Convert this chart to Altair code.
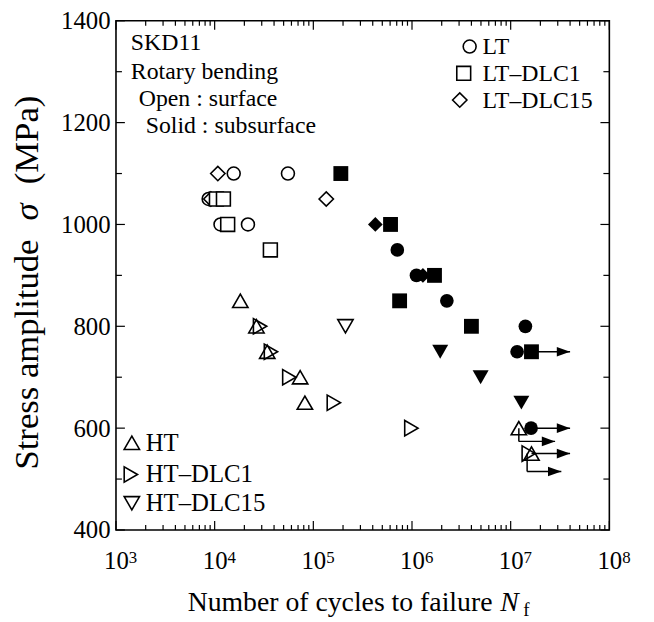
import altair as alt
import pandas as pd

# ---------------- data ----------------
lt_open_N = [1.56e4, 5.53e4, 8.69e3, 1.146e4, 2.175e4]
lt_open_S = [1100, 1100, 1050, 1000, 1000]
lt_solid_N = [7.10e5, 1.11e6, 2.255e6, 1.41e7, 1.162e7, 1.61e7]
lt_solid_S = [950, 900, 850, 800, 750, 600]

lt1_open_N = [1.042e4, 1.227e4, 1.355e4, 3.67e4]
lt1_open_S = [1050, 1050, 1000, 950]
lt1_solid_N = [1.90e5, 6.06e5, 1.69e6, 7.49e5, 4.00e6, 1.625e7]
lt1_solid_S = [1100, 1000, 900, 850, 800, 750]

lt15_open_N = [1.077e4, 9.15e3, 1.352e5]
lt15_open_S = [1100, 1050, 1050]
lt15_solid_N = [4.25e5, 1.29e6]
lt15_solid_S = [1000, 900]

ht_open_N = [1.82e4, 2.65e4, 3.41e4, 7.35e4, 8.21e4, 1.21e7, 1.625e7]
ht_open_S = [850, 800, 750, 700, 650, 600, 550]

ht1_open_N = [2.885e4, 3.72e4, 5.71e4, 1.614e5, 9.85e5, 1.525e7]
ht1_open_S = [800, 750, 700, 650, 600, 550]

ht15_open_N = [2.116e5]
ht15_open_S = [800]
ht15_solid_N = [1.931e6, 4.96e6, 1.283e7]
ht15_solid_S = [750, 700, 650]

# run-out arrows: straight (start N, tip N, stress)
run_start_N = [1.625e7, 1.61e7, 1.625e7]
run_tip_N = [4.0e7, 4.0e7, 4.0e7]
run_S = [750, 600, 550]
# run-out arrows with elbow (N, start stress, drop stress, tip N)
elb_N = [1.21e7, 1.468e7]
elb_S0 = [600, 550]
elb_S1 = [574, 515]
elb_tip_N = [2.82e7, 3.26e7]

x_major = [1e3, 1e4, 1e5, 1e6, 1e7, 1e8]
x_exp = ["3", "4", "5", "6", "7", "8"]
x_minor = [k * 10 ** e for e in range(3, 8) for k in range(2, 10)]
y_major = [400, 600, 800, 1000, 1200, 1400]
y_minor = [500, 700, 900, 1100, 1300]

notes = ["SKD11", "Rotary bending", "Open : surface", "Solid : subsurface"]
legend_top = ["LT", "LT\u2013DLC1", "LT\u2013DLC15"]
legend_bot = ["HT", "HT\u2013DLC1", "HT\u2013DLC15"]

# ---------------- layout ----------------
W, H = 498, 514
FONT = "Liberation Serif"
SW = 1.6


def df(n, s):
    return pd.DataFrame({"N": n, "S": s})


xs = alt.Scale(type="log", domain=[1e3, 1e8], nice=False)
ys = alt.Scale(domain=[400, 1400], nice=False, zero=False)
X = alt.X("N:Q", scale=xs,
          axis=alt.Axis(values=x_major, labelExpr="'10'", title=None,
                        labelFont=FONT, labelColor="black",
                        labelFontSize=25, labelPadding=19, labelFlush=False,
                        labelOverlap=False, labelBound=False,
                        grid=False, ticks=False, domain=False))
Y = alt.Y("S:Q", scale=ys,
          axis=alt.Axis(values=y_major, title=None, labelFontSize=25,
                        labelFont=FONT, labelColor="black", format="d",
                        labelPadding=6, grid=False, ticks=False, domain=False))


def open_pts(n, s, shape, size):
    return alt.Chart(df(n, s)).mark_point(
        shape=shape, filled=False, color="black", strokeWidth=SW,
        size=size, opacity=1).encode(x=X, y=Y)


def white_pts(n, s, shape, size):
    return alt.Chart(df(n, s)).mark_point(
        shape=shape, filled=True, fill="white", stroke="black",
        strokeWidth=SW, size=size, opacity=1).encode(x=X, y=Y)


def solid_pts(n, s, shape, size):
    return alt.Chart(df(n, s)).mark_point(
        shape=shape, filled=True, color="black", size=size,
        opacity=1).encode(x=X, y=Y)


layers = []


# tick marks (inside, mirrored)
def xticks(vals, length):
    d = pd.DataFrame({"N": vals})
    b = alt.Chart(d).mark_rule(color="black", strokeWidth=1.2).encode(
        x=X, y=alt.value(H), y2=alt.value(H - length))
    t = alt.Chart(d).mark_rule(color="black", strokeWidth=1.2).encode(
        x=X, y=alt.value(0), y2=alt.value(length))
    return [b, t]


def yticks(vals, length):
    d = pd.DataFrame({"S": vals})
    l = alt.Chart(d).mark_rule(color="black", strokeWidth=1.2).encode(
        y=Y, x=alt.value(0), x2=alt.value(length))
    r = alt.Chart(d).mark_rule(color="black", strokeWidth=1.2).encode(
        y=Y, x=alt.value(W), x2=alt.value(W - length))
    return [l, r]


layers += xticks(x_major, 9) + xticks(x_minor, 5)
layers += yticks(y_major, 9) + yticks(y_minor, 6)

# run-out arrows
seg_h = pd.DataFrame({"N": run_start_N + elb_N, "N2": run_tip_N + elb_tip_N,
                      "S": run_S + elb_S1})
seg_v = pd.DataFrame({"N": elb_N, "S": elb_S0, "S2": elb_S1})
layers.append(alt.Chart(seg_h).mark_rule(color="black", strokeWidth=1.5).encode(
    x=X, x2="N2:Q", y=Y))
layers.append(alt.Chart(seg_v).mark_rule(color="black", strokeWidth=1.5).encode(
    x=X, y=Y, y2="S2:Q"))
heads = df(run_tip_N + elb_tip_N, run_S + elb_S1)
layers.append(alt.Chart(heads).mark_point(
    shape="M0,0 L-2,-0.72 L-2,0.72 Z", filled=True, color="black",
    size=180, opacity=1).encode(x=X, y=Y))

# data symbols
layers.append(open_pts(lt_open_N, lt_open_S, "circle", 170))
layers.append(open_pts(lt15_open_N, lt15_open_S, "diamond", 210))
layers.append(white_pts(lt1_open_N, lt1_open_S, "square", 196))
layers.append(open_pts(ht_open_N, ht_open_S, "triangle-up", 240))
layers.append(open_pts(ht1_open_N, ht1_open_S, "triangle-right", 240))
layers.append(open_pts(ht15_open_N, ht15_open_S, "triangle-down", 240))
layers.append(solid_pts(lt_solid_N, lt_solid_S, "circle", 190))
layers.append(solid_pts(lt15_solid_N, lt15_solid_S, "diamond", 220))
layers.append(solid_pts(lt1_solid_N, lt1_solid_S, "square", 225))
layers.append(solid_pts(ht15_solid_N, ht15_solid_S, "triangle-down", 260))

# superscripts of x tick labels
sup = pd.DataFrame({"N": x_major, "t": x_exp})
layers.append(alt.Chart(sup).mark_text(
    font=FONT, fontSize=17, align="left", baseline="alphabetic", dx=13,
    color="black").encode(x=X, y=alt.value(H + 33), text="t:N"))

# annotation text
note_x = [15, 15, 23, 30]
note_y = [30, 59, 86, 113]
for t, xx, yy in zip(notes, note_x, note_y):
    layers.append(alt.Chart(pd.DataFrame({"t": [t]})).mark_text(
        font=FONT, fontSize=24, align="left", baseline="alphabetic",
        color="black").encode(x=alt.value(xx), y=alt.value(yy), text="t:N"))

# legend (top right)
lt_sym_x = [357, 351, 347]
lt_sym_y = [26, 53, 80]
lt_shapes = ["circle", "square", "diamond"]
lt_sizes = [170, 196, 210]
for t, sx, sy, sh, sz in zip(legend_top, lt_sym_x, lt_sym_y, lt_shapes, lt_sizes):
    d = pd.DataFrame({"t": [t]})
    layers.append(alt.Chart(d).mark_point(
        shape=sh, filled=False, color="black", strokeWidth=SW, size=sz,
        opacity=1).encode(x=alt.value(sx), y=alt.value(sy)))
    layers.append(alt.Chart(d).mark_text(
        font=FONT, fontSize=24, align="left", baseline="alphabetic",
        color="black").encode(x=alt.value(370), y=alt.value(sy + 8), text="t:N"))

# legend (bottom left)
ht_sym_x = [16, 15, 16]
ht_sym_y = [426, 458, 487]
ht_shapes = ["triangle-up", "triangle-right", "triangle-down"]
for t, sx, sy, sh in zip(legend_bot, ht_sym_x, ht_sym_y, ht_shapes):
    d = pd.DataFrame({"t": [t]})
    layers.append(alt.Chart(d).mark_point(
        shape=sh, filled=False, color="black", strokeWidth=SW, size=240,
        opacity=1).encode(x=alt.value(sx), y=alt.value(sy)))
    layers.append(alt.Chart(d).mark_text(
        font=FONT, fontSize=25, align="left", baseline="alphabetic",
        color="black").encode(x=alt.value(30), y=alt.value(sy + 8), text="t:N"))

# x-axis title
xt = [("Number of cycles to failure", 380, H + 82, 28, "normal", "right"),
      ("N", 388, H + 82, 28, "italic", "left"),
      ("f", 411, H + 87, 19, "normal", "left")]
for t, xx, yy, fs, st, al in xt:
    layers.append(alt.Chart(pd.DataFrame({"t": [t]})).mark_text(
        font=FONT, fontSize=fs, fontStyle=st, align=al, baseline="alphabetic",
        color="black").encode(x=alt.value(xx), y=alt.value(yy), text="t:N"))

# y-axis title (rotated)
yt = [("Stress amplitude", 453, "normal", "left"),
      ("\u03c3", 193, "italic", "center"),
      ("(MPa)", 165, "normal", "left")]
for t, yy, st, al in yt:
    layers.append(alt.Chart(pd.DataFrame({"t": [t]})).mark_text(
        font=FONT, fontSize=35, fontStyle=st, align=al, baseline="alphabetic",
        angle=270, color="black").encode(x=alt.value(-79), y=alt.value(yy),
                                         text="t:N"))

chart = alt.layer(*layers).properties(
    width=W, height=H,
    autosize=alt.AutoSizeParams(type="none"),
    padding={"left": 109, "top": 10, "right": 37, "bottom": 91},
).configure(background="white").configure_view(
    stroke="black", strokeWidth=1.6
).configure_axis(
    grid=False, domain=False, ticks=False, labelFont=FONT, labelColor="black",
)

chart.save("out.html", embed_options={"renderer": "svg", "actions": False})
